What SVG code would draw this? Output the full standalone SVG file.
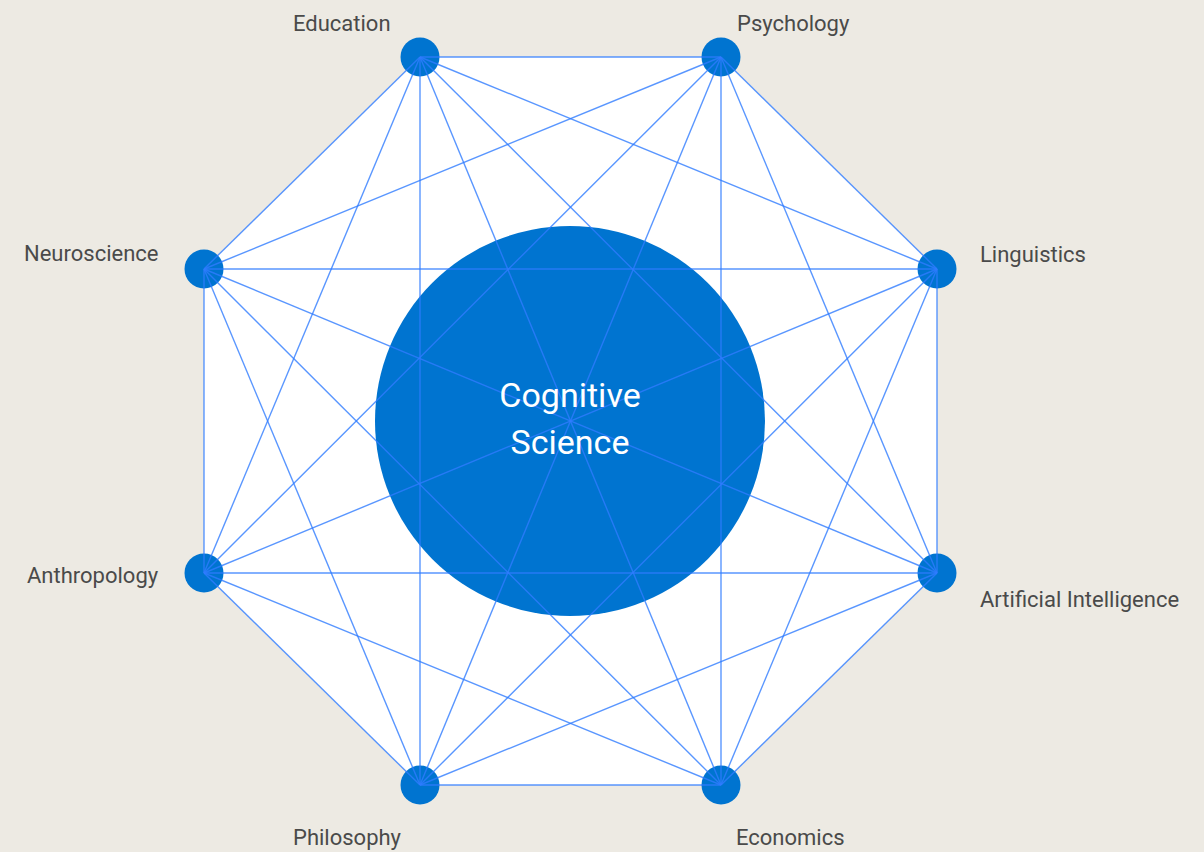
<svg xmlns="http://www.w3.org/2000/svg" width="1204" height="852" viewBox="0 0 1204 852">
<style>
.bg{fill:#edeae3}
.oct{fill:#ffffff}
.hub{fill:#0074d0}
.node{fill:#0074d0}
.edge{stroke:#2f7cff;stroke-width:1.4;stroke-opacity:0.8;fill:none}
.lbl{font-family:Roboto,"Liberation Sans",sans-serif;font-size:22px;fill:#4a4a4a}
.hubtxt{font-family:Roboto,"Liberation Sans",sans-serif;font-size:34px;fill:#ffffff;text-anchor:middle}
</style>
<rect class="bg" x="0" y="0" width="1204" height="852"/>
<polygon class="oct" points="420,57 721,57 937,269 937,573 721,785 420,785 204,573 204,269"/>
<g id="hub">
<circle class="hub" cx="570" cy="421" r="195"/>
</g>
<g id="nodes">
<g id="education"><circle class="node" cx="420" cy="57" r="19.5"/></g>
<g id="psychology"><circle class="node" cx="721" cy="57" r="19.5"/></g>
<g id="linguistics"><circle class="node" cx="937" cy="269" r="19.5"/></g>
<g id="ai"><circle class="node" cx="937" cy="573" r="19.5"/></g>
<g id="economics"><circle class="node" cx="721" cy="785" r="19.5"/></g>
<g id="philosophy"><circle class="node" cx="420" cy="785" r="19.5"/></g>
<g id="anthropology"><circle class="node" cx="204" cy="573" r="19.5"/></g>
<g id="neuroscience"><circle class="node" cx="204" cy="269" r="19.5"/></g>
</g>
<g id="connectors" class="edge">
<line x1="420" y1="57" x2="721" y2="57"/>
<line x1="420" y1="57" x2="937" y2="269"/>
<line x1="420" y1="57" x2="937" y2="573"/>
<line x1="420" y1="57" x2="721" y2="785"/>
<line x1="420" y1="57" x2="420" y2="785"/>
<line x1="420" y1="57" x2="204" y2="573"/>
<line x1="420" y1="57" x2="204" y2="269"/>
<line x1="721" y1="57" x2="937" y2="269"/>
<line x1="721" y1="57" x2="937" y2="573"/>
<line x1="721" y1="57" x2="721" y2="785"/>
<line x1="721" y1="57" x2="420" y2="785"/>
<line x1="721" y1="57" x2="204" y2="573"/>
<line x1="721" y1="57" x2="204" y2="269"/>
<line x1="937" y1="269" x2="937" y2="573"/>
<line x1="937" y1="269" x2="721" y2="785"/>
<line x1="937" y1="269" x2="420" y2="785"/>
<line x1="937" y1="269" x2="204" y2="573"/>
<line x1="937" y1="269" x2="204" y2="269"/>
<line x1="937" y1="573" x2="721" y2="785"/>
<line x1="937" y1="573" x2="420" y2="785"/>
<line x1="937" y1="573" x2="204" y2="573"/>
<line x1="937" y1="573" x2="204" y2="269"/>
<line x1="721" y1="785" x2="420" y2="785"/>
<line x1="721" y1="785" x2="204" y2="573"/>
<line x1="721" y1="785" x2="204" y2="269"/>
<line x1="420" y1="785" x2="204" y2="573"/>
<line x1="420" y1="785" x2="204" y2="269"/>
<line x1="204" y1="573" x2="204" y2="269"/>
</g>
<g id="labels">
<text class="lbl" x="293" y="31">Education</text>
<text class="lbl" x="737" y="31">Psychology</text>
<text class="lbl" x="980" y="262">Linguistics</text>
<text class="lbl" x="980" y="607">Artificial Intelligence</text>
<text class="lbl" x="736" y="845">Economics</text>
<text class="lbl" x="293" y="845">Philosophy</text>
<text class="lbl" x="27" y="583">Anthropology</text>
<text class="lbl" x="24" y="261">Neuroscience</text>
<text class="hubtxt" x="570" y="407">Cognitive</text>
<text class="hubtxt" x="570" y="454">Science</text>
</g>
</svg>
